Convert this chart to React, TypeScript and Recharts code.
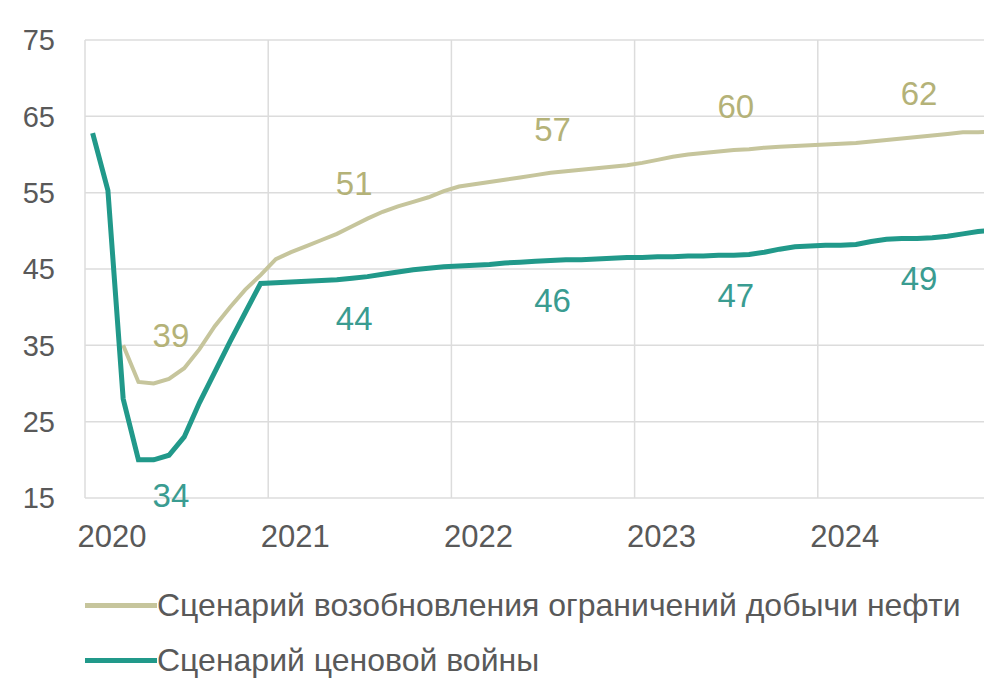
import React from 'react';
import { LineChart, Line, XAxis, YAxis, CartesianGrid, Legend, LabelList } from 'recharts';

// monthly values, Jan 2020 .. Dec 2024
const oilCutScenario = [
  null, null, 35, 30.2, 30, 30.6, 32, 34.5, 37.5, 40, 42.3, 44.2,
  46.3, 47.2, 48.0, 48.8, 49.6, 50.6, 51.6, 52.5, 53.2, 53.8, 54.4, 55.2,
  55.8, 56.1, 56.4, 56.7, 57.0, 57.3, 57.6, 57.8, 58.0, 58.2, 58.4, 58.6,
  58.9, 59.3, 59.7, 60.0, 60.2, 60.4, 60.6, 60.7, 60.9, 61.0, 61.1, 61.2,
  61.3, 61.4, 61.5, 61.7, 61.9, 62.1, 62.3, 62.5, 62.7, 62.9, 62.9, 63.0,
];
const priceWarScenario = [
  62.8, 55.3, 28, 20, 20, 20.6, 23, 27.5, 31.5, 35.5, 39.3, 43.1,
  43.2, 43.3, 43.4, 43.5, 43.6, 43.8, 44.0, 44.3, 44.6, 44.9, 45.1, 45.3,
  45.4, 45.5, 45.6, 45.8, 45.9, 46.0, 46.1, 46.2, 46.2, 46.3, 46.4, 46.5,
  46.5, 46.6, 46.6, 46.7, 46.7, 46.8, 46.8, 46.9, 47.2, 47.6, 47.9, 48.0,
  48.1, 48.1, 48.2, 48.6, 48.9, 49.0, 49.0, 49.1, 49.3, 49.6, 49.9, 50.1,
];

const years = ['2020', '2021', '2022', '2023', '2024'];
const oilCutAnnual = [39, 51, 57, 60, 62];
const priceWarAnnual = [34, 44, 46, 47, 49];
// month index where each annual average is written
const labelMonths = [5, 17, 30, 42, 54];

const yTicks = [15, 25, 35, 45, 55, 65, 75];

const OIL_COLOR = '#c6c59c';
const OIL_TEXT = '#b4b278';
const WAR_COLOR = '#21998a';
const WAR_TEXT = '#3a9c91';
const FONT = '"Liberation Sans", Arial, sans-serif';

const series = [
  { name: 'Сценарий возобновления ограничений добычи нефти', color: OIL_COLOR },
  { name: 'Сценарий ценовой войны', color: WAR_COLOR },
];

const data = priceWarScenario.map((v, i) => {
  const li = labelMonths.indexOf(i);
  return {
    m: i,
    oil: oilCutScenario[i],
    war: v,
    oilLabel: li >= 0 ? oilCutAnnual[li] : null,
    warLabel: li >= 0 ? priceWarAnnual[li] : null,
  };
});

const yearTicks = years.map((_, i) => i * 12 - 0.5);

const YearTick = (props: any) => {
  const { x, y, payload } = props;
  const label = years[Math.round((payload.value + 0.5) / 12)];
  return (
    <text x={x + 27} y={y} dy="0.71em" textAnchor="middle" fill="#595959" fontSize={31} fontFamily={FONT}>
      {label}
    </text>
  );
};

const annualLabel = (color: string, offset: number) => (props: any) => {
  const { x, y, value } = props;
  if (value == null) return null;
  return (
    <text x={x + 2} y={y + offset} textAnchor="middle" dominantBaseline="central" fill={color} fontSize={33} fontFamily={FONT}>
      {value}
    </text>
  );
};

const LegendBox = () => (
  <div style={{ fontFamily: FONT, fontSize: 32, color: '#595959', height: 110 }}>
    {series.map((s) => (
      <div key={s.name} style={{ display: 'flex', alignItems: 'center', height: 55, whiteSpace: 'nowrap' }}>
        <span style={{ display: 'inline-block', width: 72, height: 5, background: s.color, marginLeft: 85 }} />
        <span>{s.name}</span>
      </div>
    ))}
  </div>
);

export default function App() {
  return (
    <div style={{ position: 'absolute', left: 0, top: 0, width: 984, height: 678, overflow: 'hidden', background: '#fff' }}>
      <LineChart width={1012} height={678} data={data} margin={{ top: 40, right: 11, bottom: 0, left: 0 }}>
        <CartesianGrid stroke="#dcdcdc" strokeWidth={1.5} />
        <XAxis
          type="number"
          dataKey="m"
          domain={[-0.5, 59.5]}
          ticks={yearTicks}
          allowDataOverflow
          axisLine={false}
          tickLine={false}
          tickSize={0}
          tickMargin={27}
          height={70}
          tick={<YearTick />}
        />
        <YAxis
          domain={[15, 75]}
          ticks={yTicks}
          width={85}
          axisLine={false}
          tickLine={false}
          tickSize={0}
          tickMargin={30}
          tick={{ fill: '#595959', fontSize: 29, fontFamily: FONT }}
        />
        <Legend
          layout="horizontal"
          verticalAlign="bottom"
          wrapperStyle={{ left: 0, top: 578, width: 984 }}
          content={() => <LegendBox />}
        />
        <Line
          type="linear"
          dataKey="oil"
          name={series[0].name}
          stroke={OIL_COLOR}
          strokeWidth={4}
          dot={false}
          isAnimationActive={false}
        >
          <LabelList dataKey="oilLabel" content={annualLabel(OIL_TEXT, -43)} />
        </Line>
        <Line
          type="linear"
          dataKey="war"
          name={series[1].name}
          stroke={WAR_COLOR}
          strokeWidth={5}
          dot={false}
          isAnimationActive={false}
        >
          <LabelList dataKey="warLabel" content={annualLabel(WAR_TEXT, 40)} />
        </Line>
      </LineChart>
    </div>
  );
}
